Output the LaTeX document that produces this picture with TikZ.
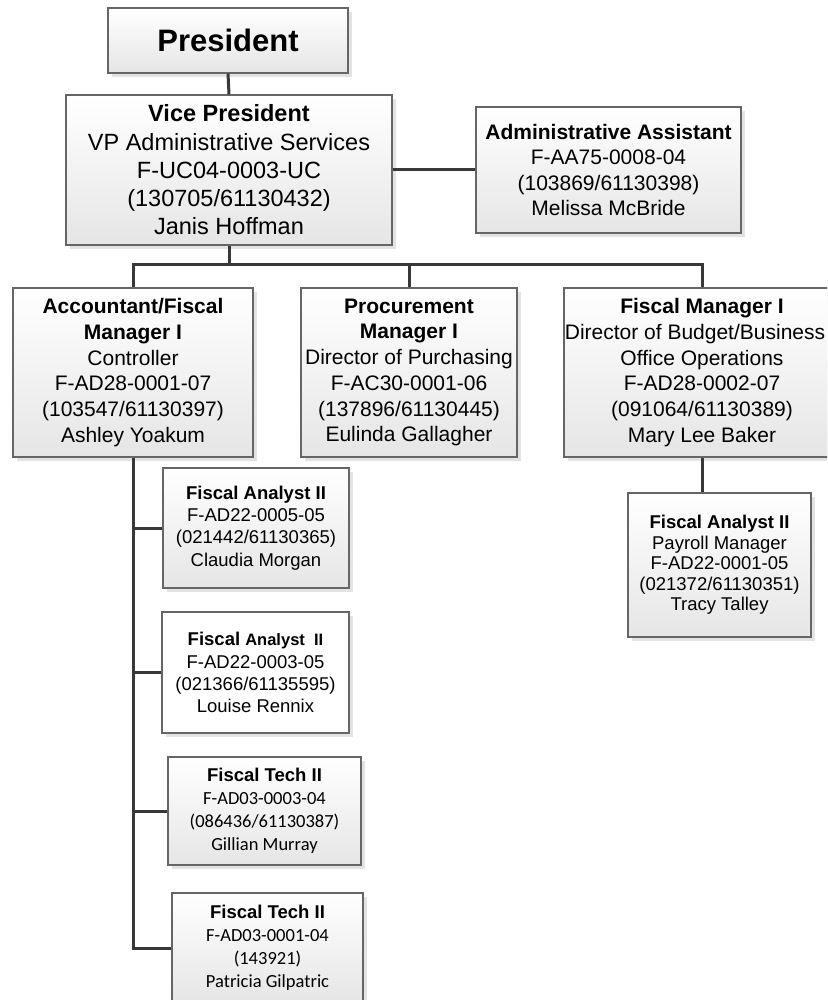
\documentclass[tikz,border=0pt]{standalone}
\usepackage{fontspec}
\setmainfont{Liberation Sans}
\newfontfamily\carl{Carlito}
\usetikzlibrary{shadows}
\tikzset{
  basebox/.style={draw=black!60, line width=1.2pt, inner sep=0pt, align=center, text=black,
    drop shadow={shadow xshift=4pt, shadow yshift=-4pt, fill=black!11, opacity=1}},
  orgbox/.style={basebox, top color=white, bottom color=black!10},
  whitebox/.style={basebox, fill=white},
  link/.style={draw=black!78, line width=3pt},
}
\begin{document}
\begin{tikzpicture}[x=1pt, y=-1pt]
\useasboundingbox (0,0) rectangle (827,1000);
\clip (0,0) rectangle (827,1000);
\fill[white] (0,0) rectangle (827,1000);

\node[orgbox, minimum width=240pt, minimum height=65pt, font=\fontsize{31}{36}\selectfont] (pres) at (228,40.5) {\textbf{President}};

\node[orgbox, minimum width=326pt, minimum height=150pt, font=\fontsize{23.5}{28.3}\selectfont] (vp) at (229,170)
  {\textbf{Vice President}\\VP Administrative Services\\F-UC04-0003-UC\\(130705/61130432)\\Janis Hoffman};

\node[orgbox, minimum width=265pt, minimum height=126pt, font=\fontsize{21}{25.6}\selectfont] (adm) at (608.5,170)
  {\textbf{Administrative Assistant}\\F-AA75-0008-04\\(103869/61130398)\\Melissa McBride};

\node[orgbox, minimum width=240pt, minimum height=169pt, font=\fontsize{21}{25.7}\selectfont] (acc) at (133,372.5)
  {\textbf{Accountant/Fiscal}\\\textbf{Manager I}\\Controller\\F-AD28-0001-07\\(103547/61130397)\\Ashley Yoakum};

\node[orgbox, minimum width=216pt, minimum height=169pt, font=\fontsize{21}{25.7}\selectfont] (proc) at (409,372.5)
  {\textbf{Procurement}\\\textbf{Manager I}\\Director of Purchasing\\F-AC30-0001-06\\(137896/61130445)\\Eulinda Gallagher};

\node[orgbox, minimum width=276pt, minimum height=169pt, font=\fontsize{21}{25.7}\selectfont] (fm) at (702,372.5)
  {\textbf{Fiscal Manager I}\\\hspace*{-14pt}Director of Budget/Business\\Office Operations\\F-AD28-0002-07\\(091064/61130389)\\Mary Lee Baker};

\node[orgbox, minimum width=183pt, minimum height=144pt, font=\fontsize{18.5}{20.5}\selectfont] (tra) at (719.5,565)
  {\textbf{Fiscal Analyst II}\\Payroll Manager\\F-AD22-0001-05\\(021372/61130351)\\Tracy Talley};

\node[orgbox, minimum width=186pt, minimum height=120pt, font=\fontsize{18.5}{22.3}\selectfont] (cla) at (256,528)
  {\textbf{Fiscal Analyst II}\\F-AD22-0005-05\\(021442/61130365)\\Claudia Morgan};

\node[whitebox, minimum width=187pt, minimum height=121pt, font=\fontsize{18.5}{22.2}\selectfont] (lou) at (255.5,672.5)
  {\textbf{Fiscal {\fontsize{16.5}{22.2}\selectfont Analyst\ \ II}}\\F-AD22-0003-05\\(021366/61135595)\\Louise Rennix};

\node[orgbox, minimum width=193pt, minimum height=108pt, font=\fontsize{18.5}{23}\selectfont] (gil) at (264.5,811)
  {\textbf{Fiscal Tech II}\\{\carl F-AD03-0003-04}\\{\carl (086436/61130387)}\\{\carl Gillian Murray}};

\node[orgbox, minimum width=191pt, minimum height=110pt, font=\fontsize{18.5}{23}\selectfont] (pat) at (267.5,948)
  {\textbf{Fiscal Tech II}\\{\carl F-AD03-0001-04}\\{\carl (143921)}\\{\carl Patricia Gilpatric}};

\coordinate (bus) at (229,264);
\draw[link] (pres.south) -- (vp.north);
\draw[link] (vp.east) -- (adm.west);
\draw[link] (vp.south) -- (bus);
\draw[link] (bus) -| (acc.north);
\draw[link] (bus) -| (proc.north);
\draw[link] (bus) -| (fm.north);
\draw[link] (acc.south) |- (cla.west);
\draw[link] (acc.south) |- (lou.west);
\draw[link] (acc.south) |- (gil.west);
\draw[link] (acc.south) |- (pat.west);
\draw[link] (fm.south) -- (fm.south |- tra.north);
\end{tikzpicture}
\end{document}
